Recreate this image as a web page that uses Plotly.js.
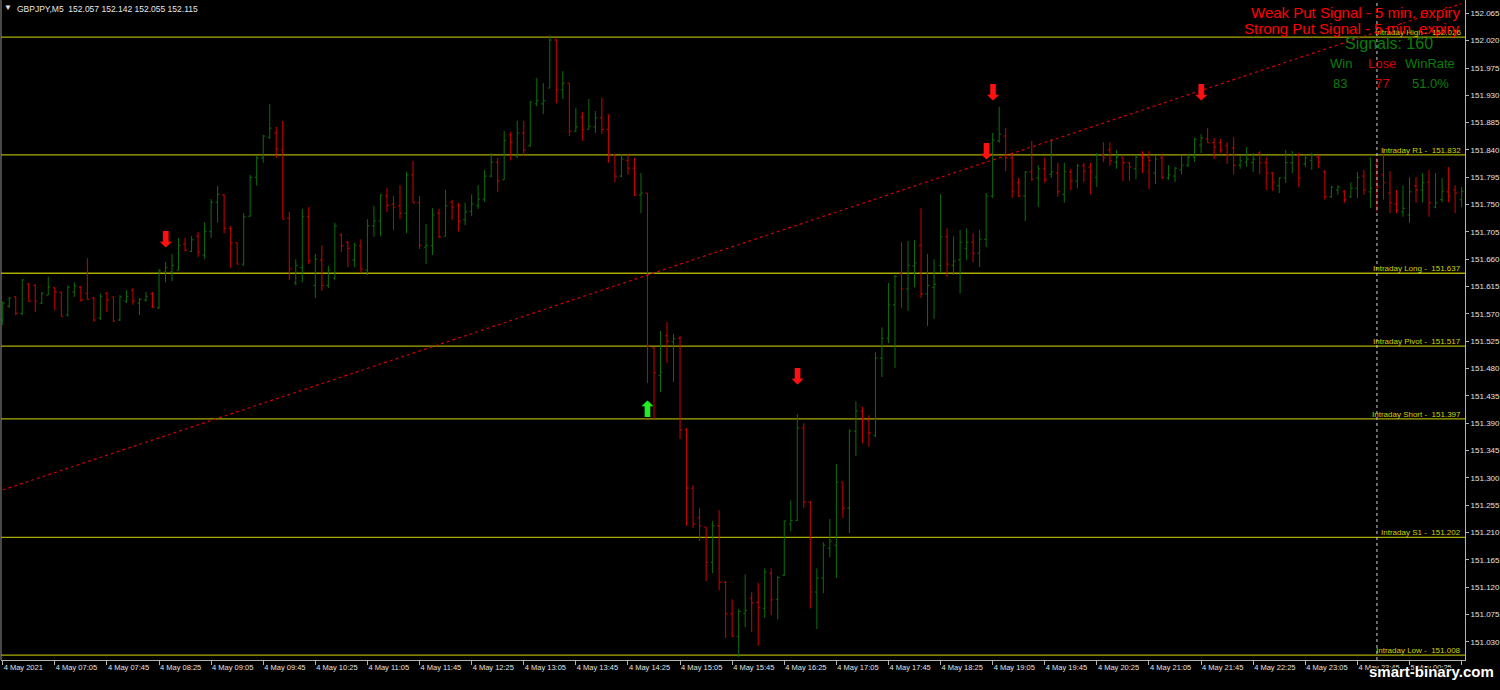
<!DOCTYPE html>
<html>
<head>
<meta charset="utf-8">
<script src="https://cdn.plot.ly/plotly-3.0.1.min.js"></script>
<style>html,body{margin:0;padding:0;background:#000;}#chart{width:1500px;height:690px;}</style>
</head>
<body>
<div id="chart"></div>
<script>
// ---- DATA (GBPJPY M5, 4 May 2021 06:25 -> 5 May 01:05) ----
const openP = [151.560,151.583,151.598,151.571,151.619,151.617,151.588,151.601,151.613,151.606,
151.568,151.606,151.614,151.604,151.596,151.563,151.604,151.598,151.560,151.591,
151.609,151.588,151.593,151.603,151.580,151.639,151.639,151.642,151.685,151.673,
151.698,151.667,151.706,151.754,151.766,151.711,151.687,151.652,151.731,151.795,
151.827,151.861,151.868,151.840,151.728,151.621,151.646,151.730,151.617,151.659,
151.617,151.629,151.700,151.688,151.659,151.682,151.642,151.715,151.723,151.764,
151.751,151.748,151.736,151.799,151.753,151.680,151.682,151.736,151.698,151.754,
151.749,151.725,151.739,151.748,151.759,151.797,151.820,151.791,151.865,151.830,
151.868,151.847,151.916,151.916,151.942,152.021,151.939,151.950,151.871,151.894,
151.874,151.878,151.893,151.874,151.832,151.797,151.823,151.810,151.766,151.769,
151.514,151.469,151.534,151.524,151.530,151.379,151.283,151.234,151.219,151.161,
151.221,151.128,151.076,151.039,151.077,151.102,151.095,151.085,151.143,151.100,
151.140,151.224,151.230,151.382,151.260,151.112,151.135,151.184,151.189,151.293,
151.250,151.377,151.410,151.395,151.370,151.497,151.530,151.585,151.636,151.611,
151.649,151.683,151.603,151.614,151.650,151.697,151.650,151.659,151.678,151.688,
151.670,151.693,151.764,151.855,151.863,151.827,151.786,151.764,151.804,151.794,
151.809,151.800,151.802,151.767,151.804,151.789,151.814,151.812,151.795,151.832,
151.840,151.820,151.828,151.819,151.809,151.830,151.828,151.802,151.827,151.794,
151.797,151.807,151.815,151.828,151.848,151.858,151.852,151.852,151.847,151.843,
151.815,151.820,151.819,151.835,151.819,151.802,151.781,151.794,151.819,151.832,
151.817,151.823,151.828,151.804,151.763,151.774,151.771,151.763,151.777,151.797,
151.771,151.815,151.799,151.769,151.751,151.738,151.733,151.781,151.774,151.787,
151.746,151.758,151.771,151.774,151.758];
const highP = [151.591,151.598,151.599,151.627,151.621,151.619,151.606,151.631,151.614,151.606,
151.617,151.622,151.616,151.662,151.598,151.604,151.606,151.598,151.601,151.609,
151.613,151.596,151.606,151.606,151.644,151.655,151.669,151.695,151.695,151.698,
151.705,151.721,151.759,151.781,151.767,151.715,151.688,151.736,151.799,151.830,
151.865,151.916,151.878,151.888,151.738,151.660,151.743,151.746,151.669,151.683,
151.649,151.720,151.703,151.690,151.687,151.693,151.726,151.748,151.767,151.777,
151.764,151.782,151.804,151.822,151.764,151.718,151.744,151.743,151.774,151.758,
151.753,151.753,151.767,151.782,151.807,151.835,151.827,151.871,151.870,151.888,
151.888,151.921,151.959,151.950,152.029,152.023,151.970,151.950,151.909,151.903,
151.924,151.904,151.926,151.899,151.833,151.833,151.833,151.827,151.802,151.769,
151.515,151.542,151.557,151.537,151.534,151.382,151.288,151.250,151.219,151.229,
151.247,151.130,151.100,151.084,151.141,151.112,151.127,151.151,151.151,151.138,
151.230,151.263,151.405,151.390,151.262,151.151,151.194,151.232,151.323,151.293,
151.380,151.426,151.417,151.403,151.507,151.548,151.621,151.634,151.688,151.690,
151.692,151.744,151.669,151.660,151.767,151.711,151.698,151.708,151.711,151.703,
151.708,151.769,151.868,151.911,151.876,151.833,151.794,151.805,151.855,151.815,
151.827,151.858,151.819,151.819,151.809,151.817,151.819,151.819,151.835,151.853,
151.853,151.840,151.828,151.820,151.832,151.838,151.838,151.830,151.833,151.815,
151.812,151.830,151.833,151.860,151.866,151.876,151.860,151.858,151.853,151.861,
151.830,151.845,151.835,151.838,151.828,151.804,151.795,151.840,151.838,151.835,
151.832,151.835,151.832,151.807,151.781,151.782,151.774,151.787,151.804,151.807,
151.828,151.827,151.843,151.805,151.774,151.782,151.795,151.795,151.802,151.807,
151.802,151.794,151.812,151.782,151.779];
const lowP = [151.552,151.580,151.568,151.568,151.590,151.573,151.586,151.601,151.576,151.566,
151.566,151.598,151.590,151.593,151.557,151.560,151.573,151.557,151.558,151.588,
151.585,151.568,151.590,151.580,151.578,151.622,151.624,151.642,151.673,151.672,
151.664,151.660,151.695,151.720,151.703,151.646,151.652,151.649,151.730,151.781,
151.819,151.858,151.827,151.726,151.626,151.617,151.622,151.652,151.596,151.608,
151.613,151.626,151.672,151.647,151.647,151.637,151.634,151.697,151.698,151.738,
151.708,151.726,151.703,151.753,151.677,151.652,151.667,151.695,151.698,151.725,
151.706,151.716,151.731,151.743,151.754,151.795,151.771,151.791,151.823,151.827,
151.830,151.845,151.912,151.899,151.942,151.917,151.924,151.863,151.870,151.855,
151.874,151.868,151.866,151.819,151.787,151.795,151.799,151.764,151.736,151.456,
151.397,151.441,151.489,151.458,151.364,151.221,151.217,151.196,151.130,151.143,
151.115,151.036,151.038,151.005,151.054,151.046,151.023,151.069,151.074,151.067,
151.138,151.212,151.229,151.250,151.085,151.051,151.110,151.169,151.135,151.234,
151.209,151.336,151.357,151.351,151.367,151.466,151.522,151.481,151.580,151.575,
151.614,151.596,151.550,151.562,151.637,151.631,151.634,151.604,151.659,151.655,
151.647,151.680,151.761,151.852,151.805,151.761,151.763,151.723,151.789,151.746,
151.786,151.794,151.763,151.753,151.774,151.777,151.787,151.767,151.779,151.820,
151.814,151.809,151.789,151.789,151.792,151.802,151.776,151.784,151.792,151.791,
151.787,151.800,151.812,151.820,151.835,151.852,151.825,151.835,151.817,151.800,
151.809,151.812,151.804,151.800,151.774,151.772,151.769,151.786,151.802,151.779,
151.812,151.807,151.810,151.758,151.761,151.766,151.753,151.761,151.761,151.766,
151.744,151.738,151.758,151.736,151.736,151.730,151.720,151.753,151.754,151.730,
151.744,151.754,151.754,151.736,151.746];
const closeP = [151.588,151.596,151.571,151.626,151.591,151.591,151.604,151.614,151.606,151.566,
151.614,151.616,151.593,151.594,151.560,151.599,151.593,151.558,151.598,151.599,
151.591,151.594,151.599,151.581,151.641,151.646,151.650,151.683,151.675,151.692,
151.672,151.706,151.754,151.767,151.711,151.687,151.652,151.730,151.795,151.827,
151.863,151.876,151.842,151.726,151.644,151.650,151.730,151.657,151.660,151.617,
151.642,151.715,151.682,151.678,151.683,151.644,151.715,151.723,151.766,151.749,
151.746,151.736,151.799,151.753,151.683,151.683,151.733,151.697,151.748,151.746,
151.723,151.738,151.751,151.759,151.797,151.820,151.789,151.856,151.853,151.868,
151.840,151.919,151.921,151.921,152.021,151.939,151.950,151.871,151.878,151.874,
151.879,151.893,151.874,151.833,151.797,151.825,151.810,151.766,151.769,151.517,
151.473,151.474,151.525,151.529,151.379,151.283,151.224,151.221,151.161,151.221,
151.128,151.076,151.039,151.080,151.082,151.094,151.087,151.145,151.099,151.136,
151.229,151.230,151.382,151.260,151.112,151.135,151.189,151.196,151.293,151.250,
151.377,151.410,151.398,151.374,151.497,151.530,151.585,151.632,151.611,151.650,
151.654,151.603,151.617,151.619,151.697,151.652,151.657,151.688,151.688,151.670,
151.693,151.764,151.856,151.866,151.827,151.772,151.764,151.804,151.792,151.809,
151.791,151.804,151.771,151.804,151.789,151.814,151.805,151.804,151.832,151.827,
151.823,151.828,151.819,151.812,151.828,151.827,151.823,151.825,151.795,151.799,
151.810,151.815,151.828,151.858,151.860,151.852,151.845,151.840,151.832,151.815,
151.822,151.825,151.825,151.819,151.802,151.787,151.794,151.819,151.832,151.794,
151.827,151.832,151.820,151.763,151.779,151.779,151.758,151.777,151.795,151.774,
151.777,151.779,151.786,151.753,151.741,151.744,151.771,151.774,151.786,151.753,
151.753,151.772,151.764,151.769,151.772];

const timeLabels = ["4 May 2021","4 May 07:05","4 May 07:45","4 May 08:25","4 May 09:05","4 May 09:45",
"4 May 10:25","4 May 11:05","4 May 11:45","4 May 12:25","4 May 13:05","4 May 13:45","4 May 14:25",
"4 May 15:05","4 May 15:45","4 May 16:25","4 May 17:05","4 May 17:45","4 May 18:25","4 May 19:05",
"4 May 19:45","4 May 20:25","4 May 21:05","4 May 21:45","4 May 22:25","4 May 23:05","4 May 23:45",
"5 May 00:25","5 May 01:05"];
const barsPerLabel = 8;
const dayBreakBar = 211;   // 5 May 00:00

const levelNames  = ["Intraday High","Intraday R1","Intraday Long","Intraday Pivot","Intraday Short","Intraday S1","Intraday Low"];
const levelValues = [152.026,151.832,151.637,151.517,151.397,151.202,151.008];

const putArrowBars   = [25,122,151,152,184];
const putArrowPrices = [151.690,151.463,151.835,151.932,151.931];
const callArrowBars   = [99];
const callArrowPrices = [151.410];

const trendBars   = [0,224];
const trendPrices = [151.280,152.081];

const yTicks = [151.030,151.075,151.120,151.165,151.210,151.255,151.300,151.345,151.390,151.435,
151.480,151.525,151.570,151.615,151.660,151.705,151.750,151.795,151.840,151.885,151.930,151.975,152.020,152.065];

const headerText = "GBPJPY,M5  152.057 152.142 152.055 152.115";
const signalsTotal = 160, wins = 83, losses = 77, winRate = "51.0%";

// ---- CHART ----
const idx = openP.map((_, i) => i);
const tickvals = timeLabels.map((_, i) => i * barsPerLabel);

const traces = [
  {
    type: 'ohlc', x: idx, open: openP, high: highP, low: lowP, close: closeP,
    increasing: {line: {color: '#0d6e0d', width: 1}},
    decreasing: {line: {color: '#d00000', width: 1}},
    tickwidth: 0.3, hoverinfo: 'skip'
  },
  {
    type: 'scatter', mode: 'lines', x: trendBars, y: trendPrices,
    line: {color: '#d00000', width: 1.2, dash: 'dot'}, hoverinfo: 'skip', cliponaxis: true
  },
  {
    type: 'scatter', mode: 'text', x: putArrowBars, y: putArrowPrices,
    text: putArrowBars.map(() => '<b>⬇</b>'), textposition: 'middle center',
    textfont: {family: 'DejaVu Sans', size: 22, color: '#ff1010'}, hoverinfo: 'skip'
  },
  {
    type: 'scatter', mode: 'text', x: callArrowBars, y: callArrowPrices,
    text: callArrowBars.map(() => '<b>⬆</b>'), textposition: 'middle center',
    textfont: {family: 'DejaVu Sans', size: 22, color: '#22ee22'}, hoverinfo: 'skip'
  }
];

const W = 1464, H = 660, L = 1;
const px = v => (v - L) / W;
const py = v => 1 - v / H;

const shapes = levelValues.map(v => ({
  type: 'line', xref: 'paper', x0: 0, x1: 1, yref: 'y', y0: v, y1: v,
  line: {color: '#aaaa00', width: 1.3}, layer: 'below'
}));
shapes.push({type: 'line', xref: 'x', x0: dayBreakBar, x1: dayBreakBar, yref: 'paper', y0: 0, y1: 1,
  line: {color: '#d0d0d0', width: 1, dash: 'dot'}, layer: 'above'});
shapes.push({type: 'line', xref: 'paper', x0: 0, x1: 0, yref: 'paper', y0: 0, y1: 1,
  line: {color: '#909090', width: 1}});

const annotations = levelNames.map((n, i) => ({
  xref: 'paper', x: px(1463), xanchor: 'right', yref: 'y', y: levelValues[i], yanchor: 'bottom',
  text: n + ' -  ' + levelValues[i].toFixed(3), showarrow: false,
  font: {family: 'Liberation Sans', size: 8, color: '#d2d200'}, yshift: -2
}));
const txt = (t, x, y, size, color, anchor) => ({
  xref: 'paper', yref: 'paper', x: px(x), y: py(y), xanchor: anchor || 'center', yanchor: 'middle',
  text: t, showarrow: false, font: {family: 'Liberation Sans', size: size, color: color}
});
annotations.push(txt('Weak Put Signal - 5 min. expiry', 1462, 12, 15, '#ff0000', 'right'));
annotations.push(txt('Strong Put Signal - 5 min. expiry', 1462, 28, 15, '#ff0000', 'right'));
annotations.push(txt('Signals: ' + signalsTotal, 1389, 44, 16, '#0a7d0a'));
annotations.push(txt('Win', 1341, 63, 13, '#0a7d0a'));
annotations.push(txt('Lose', 1382, 63, 13, '#d00000'));
annotations.push(txt('WinRate', 1430, 63, 13, '#0a7d0a'));
annotations.push(txt(String(wins), 1340, 84, 13, '#0a7d0a'));
annotations.push(txt(String(losses), 1382, 84, 13, '#d00000'));
annotations.push(txt(winRate, 1430, 84, 13, '#0a7d0a'));
annotations.push(txt('▼', 8, 8, 8, '#e6e6e6'));
annotations.push(txt(headerText, 15, 9, 8.5, '#e6e6e6', 'left'));
annotations.push({
  xref: 'paper', yref: 'paper', x: px(1431), y: py(671), xanchor: 'center', yanchor: 'middle',
  text: '<b>smart-binary.com</b>', showarrow: false,
  font: {family: 'Liberation Sans', size: 15, color: '#ffffff',
         shadow: '1px 1px 1px #000, -1px -1px 1px #000, 1px -1px 1px #000, -1px 1px 1px #000'}
});

const layout = {
  width: 1500, height: 690,
  margin: {l: L, r: 1500 - L - W, t: 0, b: 690 - H},
  paper_bgcolor: '#000000', plot_bgcolor: '#000000',
  showlegend: false,
  xaxis: {
    range: [-0.26, 224.52], rangeslider: {visible: false}, showgrid: false, zeroline: false,
    tickmode: 'array', tickvals: tickvals, ticktext: timeLabels,
    ticks: 'outside', ticklen: 4, tickcolor: '#b4b4b4', ticklabelposition: 'outside right',
    showline: true, linecolor: '#b4b4b4', linewidth: 1,
    tickfont: {family: 'Liberation Sans', size: 7.5, color: '#e0e0e0'}, fixedrange: true
  },
  yaxis: {
    side: 'right', range: [151.000, 152.087], showgrid: false, zeroline: false,
    tickmode: 'array', tickvals: yTicks, tickformat: '.3f',
    ticks: 'outside', ticklen: 3, tickcolor: '#b4b4b4',
    showline: true, linecolor: '#b4b4b4', linewidth: 1,
    tickfont: {family: 'Liberation Sans', size: 8, color: '#e0e0e0'}, fixedrange: true
  },
  shapes: shapes,
  annotations: annotations
};

Plotly.newPlot('chart', traces, layout, {staticPlot: true, displayModeBar: false});
</script>
</body>
</html>
